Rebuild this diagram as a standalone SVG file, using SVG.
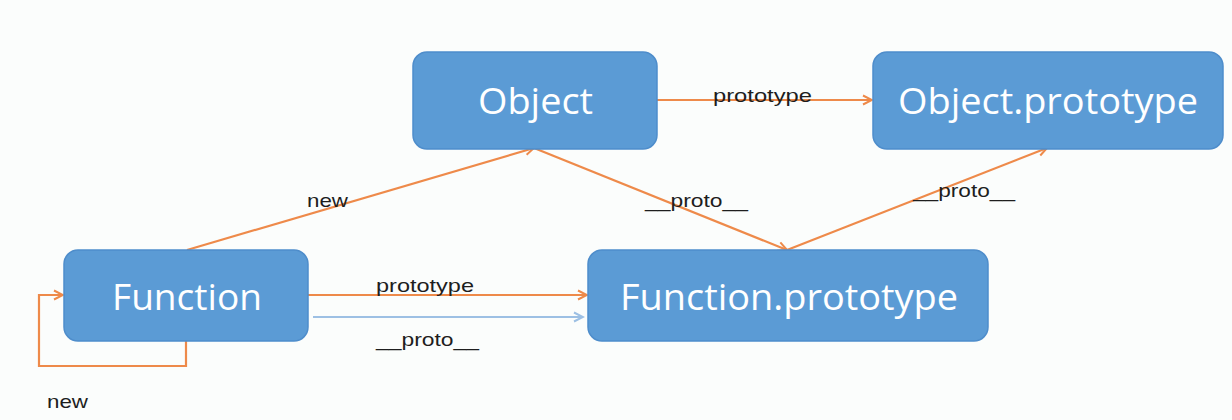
<svg xmlns="http://www.w3.org/2000/svg" width="1232" height="420" viewBox="0 0 1232 420">
<defs>
<style>
.box{fill:#5B9BD5;stroke:#4E8DCB;stroke-width:1.5}
.bt{font-family:"Open Sans","Liberation Sans",Arial,sans-serif;font-size:37px;fill:#ffffff}
.lb{font-family:"Liberation Sans",Arial,sans-serif;font-size:19px;fill:#1e1e1e}
.or{stroke:#EE8A4A;stroke-width:2.2;fill:none}
.bl{stroke:#9DC0E4;stroke-width:2;fill:none}
</style>
<marker id="ao" markerWidth="12" markerHeight="12" refX="10" refY="6" orient="auto" markerUnits="userSpaceOnUse">
<path d="M1,1.5 L10,6 L1,10.5" fill="none" stroke="#EE8A4A" stroke-width="2"/>
</marker>
<marker id="ab" markerWidth="12" markerHeight="12" refX="10" refY="6" orient="auto" markerUnits="userSpaceOnUse">
<path d="M1,1.5 L10,6 L1,10.5" fill="none" stroke="#9DC0E4" stroke-width="2"/>
</marker>
</defs>
<rect width="1232" height="420" fill="#FBFDFC"/>
<g id="connectors">
<line class="or" x1="657" y1="100" x2="872" y2="100" marker-end="url(#ao)"/>
<line class="or" x1="187" y1="250" x2="534" y2="148" marker-end="url(#ao)"/>
<line class="or" x1="534" y1="148" x2="787" y2="250" marker-end="url(#ao)"/>
<line class="or" x1="787" y1="250" x2="1047" y2="148" marker-end="url(#ao)"/>
<line class="or" x1="308" y1="295" x2="587" y2="295" marker-end="url(#ao)"/>
<line class="bl" x1="313" y1="317" x2="583" y2="317" marker-end="url(#ab)"/>
<polyline class="or" points="186,341 186,366 39,366 39,295 63,295" marker-end="url(#ao)"/>
<text class="lb" x="713" y="102" textLength="99" lengthAdjust="spacingAndGlyphs">prototype</text>
<text class="lb" x="307" y="207" textLength="41" lengthAdjust="spacingAndGlyphs">new</text>
<text class="lb" x="645" y="207" textLength="103" lengthAdjust="spacingAndGlyphs">__proto__</text>
<text class="lb" x="913" y="197" textLength="102" lengthAdjust="spacingAndGlyphs">__proto__</text>
<text class="lb" x="376" y="292" textLength="98" lengthAdjust="spacingAndGlyphs">prototype</text>
<text class="lb" x="376" y="346" textLength="103" lengthAdjust="spacingAndGlyphs">__proto__</text>
<text class="lb" x="47" y="408" textLength="41" lengthAdjust="spacingAndGlyphs">new</text>
</g>
<g id="node-object">
<rect class="box" x="413" y="52" width="244" height="97" rx="14"/>
<text class="bt" x="478" y="114" textLength="115" lengthAdjust="spacingAndGlyphs">Object</text>
</g>
<g id="node-object-prototype">
<rect class="box" x="873" y="52" width="350" height="97" rx="14"/>
<text class="bt" x="898" y="114" textLength="300" lengthAdjust="spacingAndGlyphs">Object.prototype</text>
</g>
<g id="node-function">
<rect class="box" x="64" y="250" width="244" height="91" rx="14"/>
<text class="bt" x="112" y="310" textLength="150" lengthAdjust="spacingAndGlyphs">Function</text>
</g>
<g id="node-function-prototype">
<rect class="box" x="588" y="250" width="400" height="91" rx="14"/>
<text class="bt" x="620" y="310" textLength="338" lengthAdjust="spacingAndGlyphs">Function.prototype</text>
</g>
</svg>
